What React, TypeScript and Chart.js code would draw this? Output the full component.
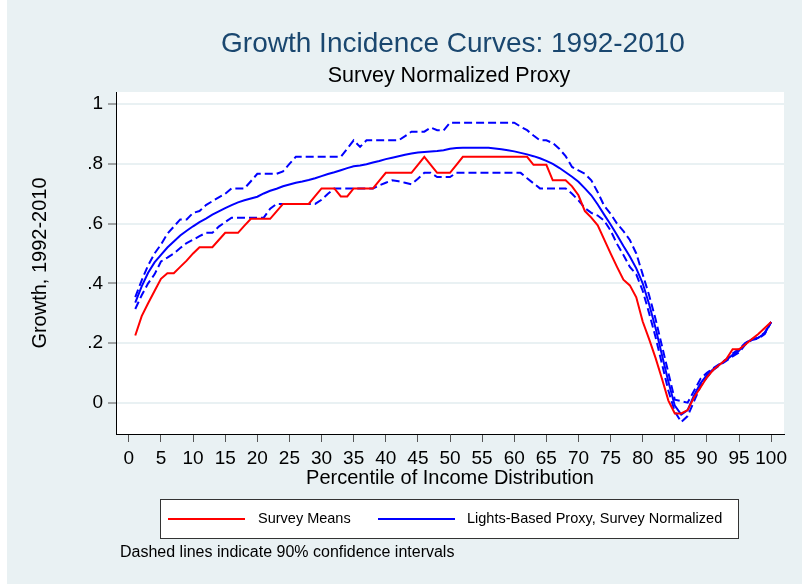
import React, { useEffect, useRef } from "react";
import { Chart, registerables } from "chart.js";

Chart.register(...registerables);

// ---------- data ----------
const percentiles = [
  1, 2, 3, 4, 5, 6, 7, 8, 9, 10, 11, 12, 13, 14, 15, 16, 17, 18, 19, 20,
  21, 22, 23, 24, 25, 26, 27, 28, 29, 30, 31, 32, 33, 34, 35, 36, 37, 38, 39, 40,
  41, 42, 43, 44, 45, 46, 47, 48, 49, 50, 51, 52, 53, 54, 55, 56, 57, 58, 59, 60,
  61, 62, 63, 64, 65, 66, 67, 68, 69, 70, 71, 72, 73, 74, 75, 76, 77, 78, 79, 80,
  81, 82, 83, 84, 85, 86, 87, 88, 89, 90, 91, 92, 93, 94, 95, 96, 97, 98, 99, 100,
];

const surveyMeans = [
  0.225, 0.29, 0.333, 0.374, 0.415, 0.434, 0.434, 0.455, 0.476, 0.5,
  0.521, 0.521, 0.521, 0.545, 0.569, 0.569, 0.569, 0.593, 0.616, 0.616,
  0.616, 0.616, 0.641, 0.666, 0.666, 0.666, 0.666, 0.666, 0.692, 0.718,
  0.718, 0.718, 0.691, 0.691, 0.718, 0.718, 0.718, 0.718, 0.744, 0.77,
  0.77, 0.77, 0.77, 0.77, 0.797, 0.824, 0.797, 0.77, 0.77, 0.77,
  0.797, 0.824, 0.824, 0.824, 0.824, 0.824, 0.824, 0.824, 0.824, 0.824,
  0.824, 0.824, 0.797, 0.797, 0.797, 0.745, 0.745, 0.745, 0.725, 0.695,
  0.642, 0.62, 0.594, 0.547, 0.5, 0.455, 0.412, 0.393, 0.353, 0.272,
  0.213, 0.15, 0.08, 0.007, -0.036, -0.036, -0.025, 0.018, 0.051, 0.085,
  0.11, 0.128, 0.145, 0.179, 0.179, 0.195, 0.213, 0.23, 0.25, 0.27,
];

const lightsProxy = [
  0.335, 0.39, 0.435, 0.47, 0.495, 0.52, 0.54, 0.56, 0.576, 0.591,
  0.605, 0.617, 0.63, 0.641, 0.652, 0.662, 0.671, 0.678, 0.684, 0.69,
  0.701, 0.71, 0.717, 0.725, 0.731, 0.737, 0.741, 0.746, 0.752, 0.759,
  0.766, 0.772, 0.779, 0.786, 0.792, 0.795, 0.799, 0.805, 0.81, 0.816,
  0.821, 0.826, 0.831, 0.835, 0.838, 0.84, 0.842, 0.843, 0.846, 0.851,
  0.853, 0.854, 0.854, 0.854, 0.854, 0.854, 0.852, 0.849, 0.846, 0.842,
  0.837, 0.832, 0.826, 0.819, 0.81, 0.8, 0.787, 0.772, 0.757, 0.74,
  0.718, 0.695, 0.664, 0.63, 0.597, 0.562, 0.525, 0.49, 0.45, 0.4,
  0.33, 0.25, 0.16, 0.07, -0.01, -0.04, -0.025, 0.025, 0.065, 0.093,
  0.113, 0.128, 0.143, 0.16, 0.174, 0.2, 0.212, 0.217, 0.232, 0.27,
];

const lightsUpper = [
  0.354, 0.41, 0.46, 0.5, 0.53, 0.566, 0.59, 0.614, 0.614, 0.636,
  0.642, 0.662, 0.675, 0.688, 0.7, 0.718, 0.718, 0.718, 0.742, 0.767,
  0.767, 0.767, 0.767, 0.775, 0.8, 0.824, 0.824, 0.824, 0.824, 0.824,
  0.824, 0.824, 0.824, 0.851, 0.879, 0.857, 0.879, 0.879, 0.879, 0.879,
  0.879, 0.879, 0.893, 0.908, 0.908, 0.908, 0.922, 0.913, 0.912, 0.938,
  0.938, 0.938, 0.938, 0.938, 0.938, 0.938, 0.938, 0.938, 0.938, 0.938,
  0.925, 0.913, 0.895, 0.879, 0.879, 0.87, 0.851, 0.826, 0.79, 0.778,
  0.767, 0.745, 0.705, 0.66, 0.633, 0.6, 0.575, 0.545, 0.5, 0.43,
  0.36, 0.28, 0.19, 0.1, 0.01, 0.005, 0.0, 0.04, 0.08, 0.1,
  0.116, 0.13, 0.145, 0.165, 0.18, 0.2, 0.212, 0.218, 0.235, 0.27,
];

const lightsLower = [
  0.314, 0.36, 0.4, 0.43, 0.473, 0.486, 0.5, 0.518, 0.535, 0.546,
  0.558, 0.569, 0.569, 0.59, 0.605, 0.62, 0.62, 0.62, 0.62, 0.62,
  0.62, 0.65, 0.666, 0.666, 0.666, 0.666, 0.666, 0.666, 0.666, 0.68,
  0.7, 0.718, 0.718, 0.718, 0.718, 0.718, 0.718, 0.718, 0.728, 0.737,
  0.745, 0.742, 0.737, 0.732, 0.75, 0.77, 0.77, 0.756, 0.756, 0.756,
  0.77, 0.77, 0.77, 0.77, 0.77, 0.77, 0.77, 0.77, 0.77, 0.77,
  0.77, 0.752, 0.735, 0.718, 0.718, 0.718, 0.718, 0.718, 0.7, 0.678,
  0.652, 0.636, 0.627, 0.61, 0.577, 0.532, 0.495, 0.455, 0.43, 0.375,
  0.3, 0.22, 0.13, 0.04, -0.03, -0.065, -0.045, 0.005, 0.055, 0.085,
  0.11, 0.126, 0.14, 0.155, 0.168, 0.195, 0.21, 0.215, 0.23, 0.27,
];

const xTickValues = [0, 5, 10, 15, 20, 25, 30, 35, 40, 45, 50, 55, 60, 65, 70, 75, 80, 85, 90, 95, 100];
const yTickValues = [0, 0.2, 0.4, 0.6, 0.8, 1];
const yTickLabels = ["0", ".2", ".4", ".6", ".8", "1"];

const titleText = "Growth Incidence Curves: 1992-2010";
const subtitleText = "Survey Normalized Proxy";
const xTitleText = "Percentile of Income Distribution";
const yTitleText = "Growth, 1992-2010";
const legendLabels = ["Survey Means", "Lights-Based Proxy, Survey Normalized"];
const noteText = "Dashed lines indicate 90% confidence intervals";

// ---------- styles ----------
const FONT = "'Liberation Sans', Arial, Helvetica, sans-serif";
const BG = "#E9F1F3";
const RED = "#FF0000";
const BLUE = "#0000FF";
const NAVY = "#1A476F";

const decorPlugin = {
  id: "decor",
  beforeDraw(chart: any) {
    const { ctx, chartArea: a } = chart;
    ctx.save();
    ctx.fillStyle = "#FFFFFF";
    ctx.fillRect(0, 0, chart.width, chart.height);
    ctx.fillStyle = BG;
    ctx.fillRect(7, 0, chart.width - 7, 584);
    ctx.fillStyle = "#FFFFFF";
    ctx.fillRect(a.left, a.top, a.right - a.left, a.bottom - a.top);
    ctx.restore();
  },
  afterDraw(chart: any) {
    const ctx = chart.ctx;
    ctx.save();
    ctx.textBaseline = "middle";
    ctx.textAlign = "center";
    ctx.fillStyle = NAVY;
    ctx.font = `28px ${FONT}`;
    ctx.fillText(titleText, 453, 44);
    ctx.fillStyle = "#000000";
    ctx.font = `21.5px ${FONT}`;
    ctx.fillText(subtitleText, 449, 76);

    // legend box
    ctx.fillStyle = "#FFFFFF";
    ctx.fillRect(160.5, 499.5, 578, 39);
    ctx.strokeStyle = "#333333";
    ctx.lineWidth = 1;
    ctx.strokeRect(160.5, 499.5, 578, 39);

    ctx.lineWidth = 2;
    ctx.strokeStyle = RED;
    ctx.beginPath();
    ctx.moveTo(168, 519);
    ctx.lineTo(245, 519);
    ctx.stroke();
    ctx.strokeStyle = BLUE;
    ctx.beginPath();
    ctx.moveTo(378, 519);
    ctx.lineTo(455, 519);
    ctx.stroke();

    ctx.textAlign = "left";
    ctx.fillStyle = "#000000";
    ctx.font = `14.5px ${FONT}`;
    ctx.fillText(legendLabels[0], 258, 519);
    ctx.fillText(legendLabels[1], 467, 519);

    ctx.font = `16px ${FONT}`;
    ctx.fillText(noteText, 120, 553);
    ctx.restore();
  },
};

export default function App() {
  const canvasRef = useRef<HTMLCanvasElement | null>(null);

  useEffect(() => {
    const canvas = canvasRef.current;
    if (!canvas) return;

    const lineBase = {
      pointRadius: 0,
      pointHoverRadius: 0,
      borderWidth: 2,
      tension: 0,
      fill: false,
    };

    const chart = new Chart(canvas, {
      type: "line",
      data: {
        labels: percentiles,
        datasets: [
          { ...lineBase, label: legendLabels[0], data: surveyMeans, borderColor: RED, backgroundColor: RED, order: 0 },
          { ...lineBase, label: legendLabels[1], data: lightsProxy, borderColor: BLUE, backgroundColor: BLUE, order: 1 },
          { ...lineBase, label: "Upper 90% CI", data: lightsUpper, borderColor: BLUE, backgroundColor: BLUE, borderDash: [8, 4], order: 2 },
          { ...lineBase, label: "Lower 90% CI", data: lightsLower, borderColor: BLUE, backgroundColor: BLUE, borderDash: [8, 4], order: 3 },
        ],
      },
      options: {
        animation: false,
        responsive: false,
        maintainAspectRatio: false,
        events: [],
        layout: { padding: { left: 0, top: 92, right: 18, bottom: 95 } },
        plugins: {
          legend: { display: false },
          tooltip: { enabled: false },
          title: { display: false },
        },
        scales: {
          x: {
            type: "linear",
            min: -2,
            max: 102,
            afterFit: (s: any) => {
              s.height = 56;
            },
            afterBuildTicks: (s: any) => {
              s.ticks = xTickValues.map((v) => ({ value: v }));
            },
            ticks: {
              autoSkip: false,
              maxRotation: 0,
              minRotation: 0,
              padding: 5,
              color: "#000000",
              font: { family: FONT, size: 19 },
              callback: (v: any) => String(v),
            },
            grid: {
              drawOnChartArea: false,
              drawTicks: true,
              tickLength: 8,
              tickColor: "#555555",
              tickWidth: 1,
            },
            border: { display: true, color: "#000000", width: 1 },
            title: {
              display: true,
              text: xTitleText,
              color: "#000000",
              font: { family: FONT, size: 20 },
              padding: { top: 0, bottom: 0 },
            },
          },
          y: {
            type: "linear",
            min: -0.105,
            max: 1.041,
            afterFit: (s: any) => {
              s.width = 116;
            },
            afterBuildTicks: (s: any) => {
              s.ticks = yTickValues.map((v) => ({ value: v }));
            },
            ticks: {
              autoSkip: false,
              padding: 5,
              color: "#000000",
              font: { family: FONT, size: 19 },
              callback: (v: any) => {
                const i = yTickValues.findIndex((t) => Math.abs(t - Number(v)) < 1e-6);
                return i >= 0 ? yTickLabels[i] : "";
              },
            },
            grid: {
              drawOnChartArea: true,
              color: BG,
              lineWidth: 2,
              drawTicks: true,
              tickLength: 8,
              tickColor: "#555555",
              tickWidth: 1,
            },
            border: { display: true, color: "#000000", width: 1 },
            title: {
              display: true,
              text: yTitleText,
              color: "#000000",
              font: { family: FONT, size: 20 },
              padding: { top: 28, bottom: 0 },
            },
          },
        },
      },
      plugins: [decorPlugin],
    } as any);

    return () => {
      chart.destroy();
    };
  }, []);

  return (
    <div style={{ position: "fixed", left: 0, top: 0, width: 802, height: 585, background: "#FFFFFF" }}>
      <canvas ref={canvasRef} width={802} height={585} style={{ display: "block", width: 802, height: 585 }} />
    </div>
  );
}
